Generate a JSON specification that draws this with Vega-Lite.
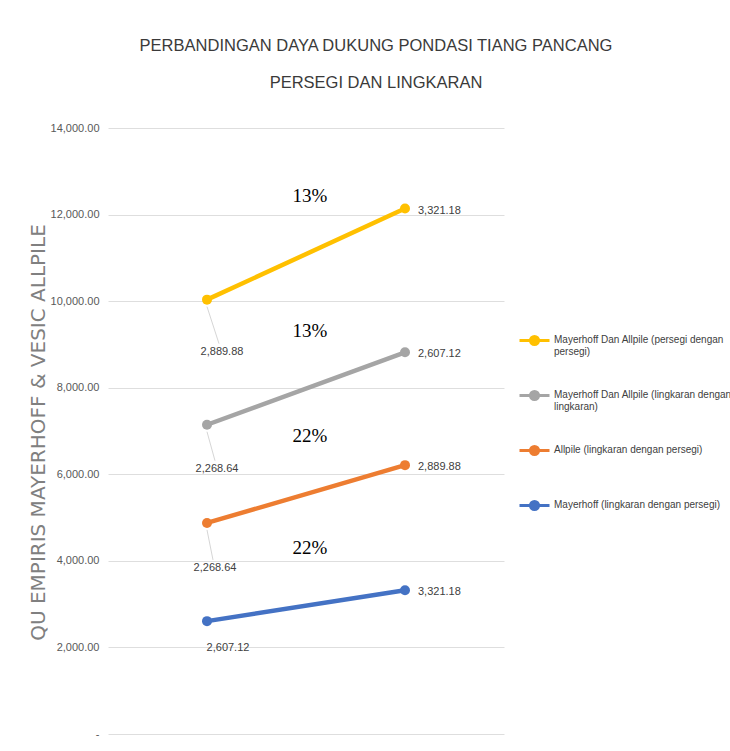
{
  "$schema": "https://vega.github.io/schema/vega-lite/v6.json",
  "width": 396,
  "height": 606,
  "autosize": {"type": "none"},
  "padding": {"left": 108, "top": 128, "right": 226, "bottom": 17},
  "background": "white",
  "config": {"view": {"stroke": null}},
  "title": {
    "text": ["PERBANDINGAN DAYA DUKUNG PONDASI TIANG PANCANG", "PERSEGI DAN LINGKARAN"],
    "font": "Liberation Sans",
    "fontSize": 16.5,
    "fontWeight": "normal",
    "color": "#3a3a3a",
    "lineHeight": 37,
    "anchor": "middle",
    "frame": "group",
    "dx": 70,
    "offset": 31
  },
  "data": {
    "values": [
      {"seri": "Mayerhoff (lingkaran dengan persegi)", "urut": 1, "pos": 1, "nilai": 2607.12, "pct": "22%"},
      {"seri": "Mayerhoff (lingkaran dengan persegi)", "urut": 1, "pos": 2, "nilai": 3321.18, "pct": "22%"},
      {"seri": "Allpile (lingkaran dengan persegi)", "urut": 2, "pos": 1, "nilai": 2268.64, "pct": "22%"},
      {"seri": "Allpile (lingkaran dengan persegi)", "urut": 2, "pos": 2, "nilai": 2889.88, "pct": "22%"},
      {"seri": "Mayerhoff Dan Allpile (lingkaran dengan lingkaran)", "urut": 3, "pos": 1, "nilai": 2268.64, "pct": "13%"},
      {"seri": "Mayerhoff Dan Allpile (lingkaran dengan lingkaran)", "urut": 3, "pos": 2, "nilai": 2607.12, "pct": "13%"},
      {"seri": "Mayerhoff Dan Allpile (persegi dengan persegi)", "urut": 4, "pos": 1, "nilai": 2889.88, "pct": "13%"},
      {"seri": "Mayerhoff Dan Allpile (persegi dengan persegi)", "urut": 4, "pos": 2, "nilai": 3321.18, "pct": "13%"}
    ]
  },
  "transform": [
    {"stack": "nilai", "groupby": ["pos"], "sort": [{"field": "urut", "order": "ascending"}], "as": ["y0", "y1"]}
  ],
  "encoding": {
    "x": {"field": "pos", "type": "quantitative", "scale": {"domain": [0.5, 2.5]}, "axis": null},
    "y": {
      "field": "y1",
      "type": "quantitative",
      "scale": {"domain": [0, 14000]},
      "axis": {
        "title": "QU EMPIRIS MAYERHOFF & VESIC ALLPILE",
        "titleFont": "DejaVu Sans",
        "titleFontSize": 20,
        "titleFontWeight": "normal",
        "titleColor": "#808080",
        "titleX": -70,
        "titleY": 304,
        "titleAngle": -90,
        "titleAlign": "center",
        "titleBaseline": "middle",
        "values": [0, 2000, 4000, 6000, 8000, 10000, 12000, 14000],
        "labelExpr": "datum.value === 0 ? '-' : format(datum.value, ',.2f')",
        "labelFont": "Liberation Sans",
        "labelFontSize": 11,
        "labelColor": "#595959",
        "labelPadding": 9,
        "ticks": false,
        "domain": false,
        "gridColor": "#dedede",
        "gridWidth": 1
      }
    },
    "color": {
      "field": "seri",
      "type": "nominal",
      "scale": {
        "domain": [
          "Mayerhoff Dan Allpile (persegi dengan persegi)",
          "Mayerhoff Dan Allpile (lingkaran dengan lingkaran)",
          "Allpile (lingkaran dengan persegi)",
          "Mayerhoff (lingkaran dengan persegi)"
        ],
        "range": ["#FFC000", "#A5A5A5", "#ED7D31", "#4472C4"]
      },
      "legend": {
        "title": null,
        "orient": "none",
        "legendX": 410,
        "legendY": 190,
        "direction": "vertical",
        "symbolType": "M-1,0.4L1,0.4M-0.27,0.4A0.27,0.27 0 1,1 0.27,0.4A0.27,0.27 0 1,1 -0.27,0.4Z",
        "symbolSize": 900,
        "symbolStrokeWidth": 3,
        "labelFont": "Liberation Sans",
        "labelFontSize": 10,
        "labelColor": "#404040",
        "labelBaseline": "top",
        "labelLimit": 300,
        "labelOffset": 3,
        "rowPadding": 16,
        "gridAlign": "all",
        "labelExpr": "datum.label == 'Mayerhoff Dan Allpile (persegi dengan persegi)' ? ['Mayerhoff Dan Allpile (persegi dengan', 'persegi)'] : datum.label == 'Mayerhoff Dan Allpile (lingkaran dengan lingkaran)' ? ['Mayerhoff Dan Allpile (lingkaran dengan', 'lingkaran)'] : datum.label"
      }
    }
  },
  "layer": [
    {"mark": {"type": "line", "strokeWidth": 4.5, "strokeCap": "round"}},
    {"mark": {"type": "point", "filled": true, "size": 100, "opacity": 1}},
    {
      "transform": [{"filter": "datum.pos == 2"}],
      "mark": {"type": "text", "align": "left", "baseline": "middle", "dx": 13, "dy": 2, "font": "Liberation Sans", "fontSize": 11},
      "encoding": {"text": {"field": "nilai", "type": "quantitative", "format": ",.2f"}, "color": {"value": "#404040"}}
    },
    {
      "transform": [{"filter": "datum.pos == 1 && datum.urut == 4"}],
      "layer": [
        {"mark": {"type": "rule", "strokeWidth": 1, "yOffset": 7, "x2Offset": 12, "y2Offset": 44}, "encoding": {"x2": {"field": "pos"}, "y2": {"field": "y1"}, "color": {"value": "#d6d6d6"}}},
        {"mark": {"type": "text", "align": "center", "baseline": "middle", "dx": 15, "dy": 52, "font": "Liberation Sans", "fontSize": 11}, "encoding": {"text": {"field": "nilai", "type": "quantitative", "format": ",.2f"}, "color": {"value": "#404040"}}}
      ]
    },
    {
      "transform": [{"filter": "datum.pos == 1 && datum.urut == 3"}],
      "layer": [
        {"mark": {"type": "rule", "strokeWidth": 1, "yOffset": 7, "x2Offset": 8, "y2Offset": 36}, "encoding": {"x2": {"field": "pos"}, "y2": {"field": "y1"}, "color": {"value": "#d6d6d6"}}},
        {"mark": {"type": "text", "align": "center", "baseline": "middle", "dx": 10, "dy": 44, "font": "Liberation Sans", "fontSize": 11}, "encoding": {"text": {"field": "nilai", "type": "quantitative", "format": ",.2f"}, "color": {"value": "#404040"}}}
      ]
    },
    {
      "transform": [{"filter": "datum.pos == 1 && datum.urut == 2"}],
      "layer": [
        {"mark": {"type": "rule", "strokeWidth": 1, "yOffset": 7, "x2Offset": 6, "y2Offset": 37}, "encoding": {"x2": {"field": "pos"}, "y2": {"field": "y1"}, "color": {"value": "#d6d6d6"}}},
        {"mark": {"type": "text", "align": "center", "baseline": "middle", "dx": 8, "dy": 45, "font": "Liberation Sans", "fontSize": 11}, "encoding": {"text": {"field": "nilai", "type": "quantitative", "format": ",.2f"}, "color": {"value": "#404040"}}}
      ]
    },
    {
      "transform": [{"filter": "datum.pos == 1 && datum.urut == 1"}],
      "mark": {"type": "text", "align": "center", "baseline": "middle", "dx": 21, "dy": 27, "font": "Liberation Sans", "fontSize": 11},
      "encoding": {"text": {"field": "nilai", "type": "quantitative", "format": ",.2f"}, "color": {"value": "#404040"}}
    },
    {
      "transform": [
        {"aggregate": [{"op": "mean", "field": "pos", "as": "mx"}, {"op": "mean", "field": "y1", "as": "my"}], "groupby": ["seri", "pct"]}
      ],
      "mark": {"type": "text", "font": "Liberation Serif", "fontSize": 19, "dy": -58, "dx": 4, "baseline": "middle", "align": "center"},
      "encoding": {
        "x": {"field": "mx", "type": "quantitative"},
        "y": {"field": "my", "type": "quantitative"},
        "text": {"field": "pct", "type": "nominal"},
        "color": {"value": "#000000"}
      }
    }
  ]
}
